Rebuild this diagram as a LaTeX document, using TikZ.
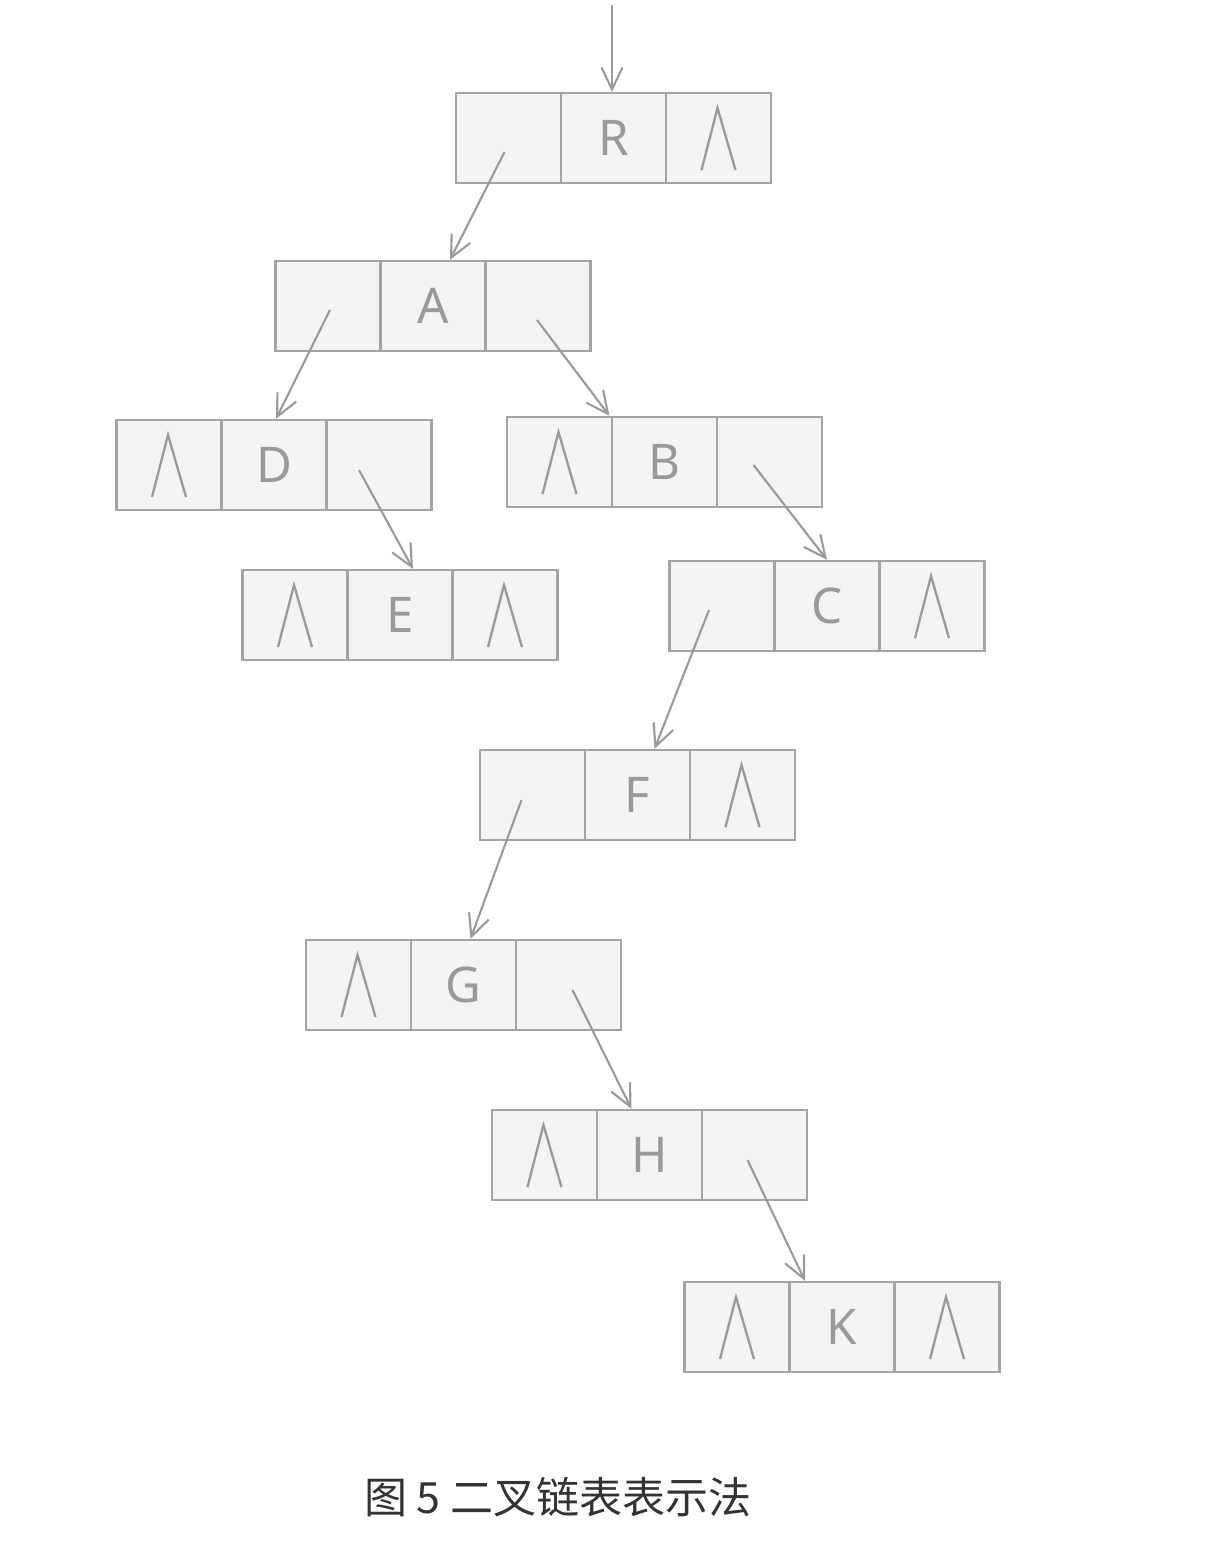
\documentclass[tikz,border=0pt]{standalone}
\usepackage{fontspec}
\setmainfont{Noto Sans}
\newfontfamily\cjkfont{Noto Sans CJK SC}
\usetikzlibrary{calc,arrows.meta}
\definecolor{cellfill}{HTML}{F4F4F4}
\definecolor{cellline}{HTML}{A4A4A4}
\definecolor{linkgray}{HTML}{9A9A9A}
\definecolor{captiongray}{HTML}{333333}
\tikzset{
  cell/.style={draw=cellline, fill=cellfill, line width=1.3pt, inner sep=0pt,
    minimum width=2.1cm, minimum height=1.8cm, text=linkgray,
    font=\fontsize{28}{30}\selectfont},
  link/.style={draw=linkgray, line width=1.2pt,
    -{Straight Barb[length=0.44cm, width=0.42cm, line width=1.2pt]}},
  nullline/.style={draw=linkgray, line width=1.3pt}
}
% one list node: three cells named (#1-l), (#1-m), (#1-r)
\def\listnode(#1)(#2,#3)#4{
  \node[cell] (#1-l) at ({#2-105},{#3}) {};
  \node[cell] (#1-m) at ({#2},{#3}) {#4};
  \node[cell] (#1-r) at ({#2+105},{#3}) {};
}
% null pointer mark in a cell
\def\nullmark(#1){\draw[nullline] ($(#1.center)+(-17,32)$) -- ($(#1.center)+(-1,-30)$) -- ($(#1.center)+(17,32)$);}

\begin{document}
\begin{tikzpicture}[x=0.02cm, y=-0.02cm]
			%%%%% START %%%%%
			\useasboundingbox (0,0) rectangle (1218,1552);
			
			\listnode(R)(613.5,138){R}
			\listnode(A)(433,306){A}
			\listnode(D)(274,465){D}
			\listnode(B)(664.5,462){B}
			\listnode(E)(400,615){E}
			\listnode(C)(827,606){C}
			\listnode(F)(637.5,795){F}
			\listnode(G)(463.5,985){G}
			\listnode(H)(649.5,1155){H}
			\listnode(K)(842,1327){K}
			
			\nullmark(R-r)
			\nullmark(D-l)
			\nullmark(B-l)
			\nullmark(E-l)
			\nullmark(E-r)
			\nullmark(C-r)
			\nullmark(F-r)
			\nullmark(G-l)
			\nullmark(H-l)
			\nullmark(K-l)
			\nullmark(K-r)
			
			\coordinate (root) at (612,5);
			\draw[link] (root) -- ($(R-m.north)+(-1.5,0)$);
			
			\draw[link] ($(R-l.center)+(-4,14)$) -- ($(A-m.north)+(17,0)$);
			\draw[link] ($(A-l.center)+(2,4)$) -- ($(D-m.north)+(2,0)$);
			\draw[link] ($(A-r.center)+(-1,14)$) -- ($(B-m.north)+(-55,0)$);
			\draw[link] ($(D-r.center)+(-20,5)$) -- ($(E-m.north)+(13,0)$);
			\draw[link] ($(B-r.center)+(-16,3)$) -- ($(C-m.north)+(0,0)$);
			\draw[link] ($(C-l.center)+(-13,4)$) -- ($(F-m.north)+(17,0)$);
			\draw[link] ($(F-l.center)+(-11,5)$) -- ($(G-m.north)+(7,0)$);
			\draw[link] ($(G-r.center)+(4,5)$) -- ($(H-m.north)+(-18,0)$);
			\draw[link] ($(H-r.center)+(-7,5)$) -- ($(K-m.north)+(-37,0)$);
			
			\node[text=captiongray, font=\cjkfont\fontsize{24.5}{26}\selectfont] (caption) at (558,1497) {图 5 二叉链表表示法};
			%%%%% END %%%%%
\end{tikzpicture}
\end{document}
